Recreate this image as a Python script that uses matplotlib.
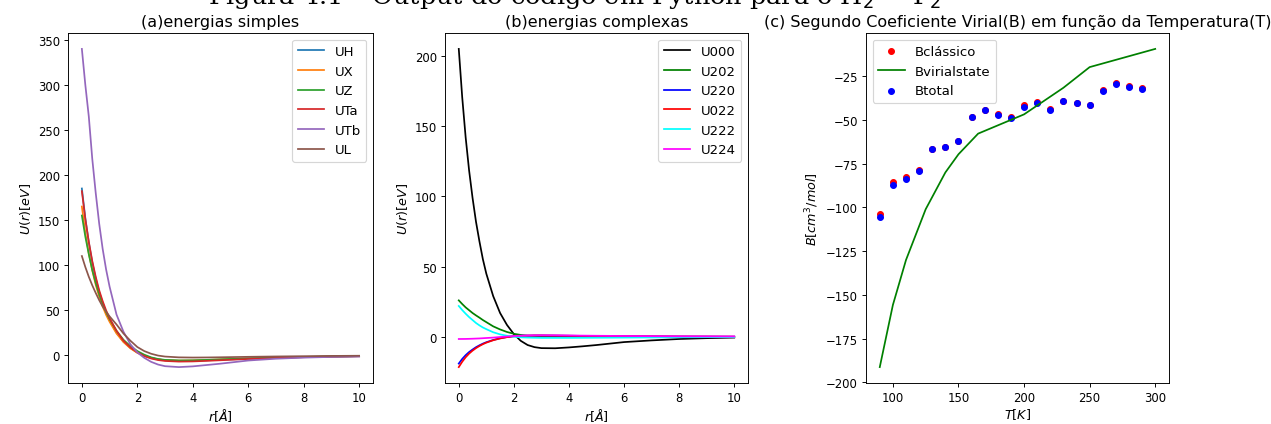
import matplotlib
matplotlib.use("Agg")
import matplotlib.pyplot as plt

plt.rcParams['mathtext.fontset'] = 'dejavusans'

# ---------------- data ----------------
r = [0, 0.125, 0.25, 0.375, 0.5, 0.625, 0.75, 0.875, 1.0, 1.25, 1.5, 1.75,
     2.0, 2.25, 2.5, 2.75, 3.0, 3.5, 4.0, 4.5, 5.0, 6.0, 7.0, 8.0, 9.0, 10.0]

# (a) energias simples
UH  = [185, 152, 125, 103, 85, 70, 58, 47.5, 39, 25, 15, 8,
       3, -0.5, -3, -4.7, -5.7, -6.4, -6.3, -5.8, -5.2, -4.0, -3.0, -2.2, -1.6, -1.2]
UX  = [165, 136, 113, 94, 78, 65, 54, 44.6, 37, 24, 14.5, 7.5,
       2.5, -1, -3.3, -4.8, -5.6, -6.1, -5.9, -5.4, -4.8, -3.7, -2.8, -2.1, -1.5, -1.1]
UZ  = [155, 131.5, 112, 94.5, 80, 67.5, 57, 47.7, 40, 27, 17, 10,
       4.5, 0.5, -2.5, -4.3, -5.3, -5.9, -5.8, -5.3, -4.7, -3.6, -2.7, -2.0, -1.5, -1.1]
UTa = [182, 151, 126, 104.5, 87, 72, 60, 49.6, 41, 27, 16, 8.5,
       3, -1, -3.8, -5.5, -6.5, -7.2, -7.0, -6.4, -5.7, -4.3, -3.2, -2.3, -1.7, -1.3]
UTb = [340, 300, 265, 218, 180, 146, 118, 95, 76, 45, 26, 12,
       3, -3, -7.5, -10.5, -12.3, -13.3, -12.5, -11.0, -9.5, -6.0, -4.0, -2.8, -2.0, -1.5]
UL  = [110, 97.8, 87, 77.5, 69, 61, 54, 48.2, 43, 34, 24, 16,
       9, 4.5, 1.5, -0.5, -1.6, -2.5, -2.7, -2.6, -2.4, -1.9, -1.5, -1.2, -0.9, -0.7]

# (b) energias complexas
U000 = [205, 170.6, 142, 118.5, 99, 82, 68, 55.3, 45, 29, 17, 8.5,
        2, -2.8, -5.8, -7.3, -8.0, -8.1, -7.5, -6.7, -5.8, -3.7, -2.5, -1.5, -0.9, -0.5]
U202 = [26, 23.4, 21, 19, 17, 15.3, 13.7, 12, 10.5, 7.5, 5.3, 3.5,
        2.2, 1.4, 0.8, 0.6, 0.4, 0.3, 0.2, 0.15, 0.1, 0.08, 0.05, 0.03, 0.02, 0.0]
U220 = [-19, -15.7, -13, -10.8, -9, -7.35, -6, -4.8, -3.8, -2.2, -1.0, -0.1,
        0.5, 0.8, 0.9, 1.0, 1.0, 0.9, 0.8, 0.7, 0.6, 0.45, 0.35, 0.25, 0.2, 0.15]
U022 = [-21.5, -17.7, -14.5, -11.9, -9.8, -8.0, -6.5, -5.2, -4.1, -2.4, -1.1, -0.2,
        0.4, 0.7, 0.9, 1.0, 1.0, 0.9, 0.8, 0.7, 0.6, 0.45, 0.35, 0.25, 0.2, 0.15]
U222 = [22, 19.1, 16.5, 14.1, 12, 9.9, 8.2, 6.7, 5.5, 3.3, 1.8, 0.8,
        0.1, -0.3, -0.5, -0.6, -0.7, -0.7, -0.7, -0.65, -0.6, -0.5, -0.4, -0.3, -0.2, -0.15]
U224 = [-1.5, -1.48, -1.45, -1.38, -1.3, -1.2, -1.1, -0.95, -0.8, -0.5, -0.1, 0.25,
        0.6, 0.85, 1.0, 1.05, 1.1, 1.1, 1.0, 0.9, 0.8, 0.65, 0.5, 0.4, 0.35, 0.3]

# (c) segundo coeficiente virial
T_pts = [90, 100, 110, 120, 130, 140, 150, 160, 170, 180, 190, 200, 210,
         220, 230, 240, 250, 260, 270, 280, 290]
Bclassico = [-104.0, -85.7, -82.6, -78.7, -66.5, -65.2, -61.8, -48.1, -44.1,
             -46.8, -48.5, -41.7, -39.5, -44.0, -39.0, -40.2, -41.3, -33.1,
             -28.7, -30.8, -32.0]
Btotal = [-105.7, -86.9, -83.7, -79.1, -66.8, -65.5, -62.2, -48.5, -44.5,
          -47.0, -48.7, -42.4, -40.1, -44.5, -39.2, -40.4, -41.5, -33.3,
          -29.3, -31.0, -32.2]
T_vs = [90, 100, 110, 125, 140, 150, 165, 200, 230, 250, 300]
Bvirialstate = [-191.2, -155.7, -130.0, -101.0, -80.0, -69.6, -57.8, -46.8,
                -31.6, -19.8, -9.4]

# ---------------- figure ----------------
fig = plt.figure(figsize=(15.264, 5.1), dpi=83.333)

H = 425.0
W = 1272.0
def rect(l, r_, t, b):
    return [l / W, 1 - b / H, (r_ - l) / W, (b - t) / H]

ax1 = fig.add_axes(rect(68, 373, 34, 384))
ax2 = fig.add_axes(rect(445, 748, 34, 384))
ax3 = fig.add_axes(rect(866, 1169, 34, 384))

TFS = 13.8
LFS = 11.5
XFS = 11

for y, lab in [(UH, 'UH'), (UX, 'UX'), (UZ, 'UZ'), (UTa, 'UTa'), (UTb, 'UTb'), (UL, 'UL')]:
    ax1.plot(r, y, label=lab)
ax1.set_title('(a)energias simples', fontsize=TFS)
ax1.set_xlabel(r'$r[\AA]$', fontsize=XFS, labelpad=2)
ax1.set_ylabel(r'$U(r)[eV]$', fontsize=XFS)
ax1.legend(loc='upper right', fontsize=LFS)

for y, lab, c in [(U000, 'U000', 'black'), (U202, 'U202', 'green'), (U220, 'U220', 'blue'),
                  (U022, 'U022', 'red'), (U222, 'U222', 'cyan'), (U224, 'U224', 'magenta')]:
    ax2.plot(r, y, label=lab, color=c)
ax2.set_title('(b)energias complexas', fontsize=TFS)
ax2.set_xlabel(r'$r[\AA]$', fontsize=XFS, labelpad=2)
ax2.set_ylabel(r'$U(r)[eV]$', fontsize=XFS)
ax2.legend(loc='upper right', fontsize=LFS)

ax3.scatter(T_pts, Bclassico, color='red', s=25, label='Bclássico')
ax3.plot(T_vs, Bvirialstate, color='green', label='Bvirialstate')
ax3.scatter(T_pts, Btotal, color='blue', s=25, label='Btotal')
ax3.set_title('(c) Segundo Coeficiente Virial(B) em função da Temperatura(T)', fontsize=TFS)
ax3.set_xlabel(r'$T[K]$', fontsize=XFS, labelpad=2)
ax3.set_ylabel(r'$B[cm^3/mol]$', fontsize=XFS)
ax3.legend(loc='upper left', fontsize=LFS)

fig.text(0.452, 1 - 4 / H, 'Figura 4.1 – Output do código em Python para o H$_2$ − F$_2$',
         ha='center', va='baseline', fontsize=22, family='DejaVu Serif')

fig.savefig('out.png', dpi=83.333)
